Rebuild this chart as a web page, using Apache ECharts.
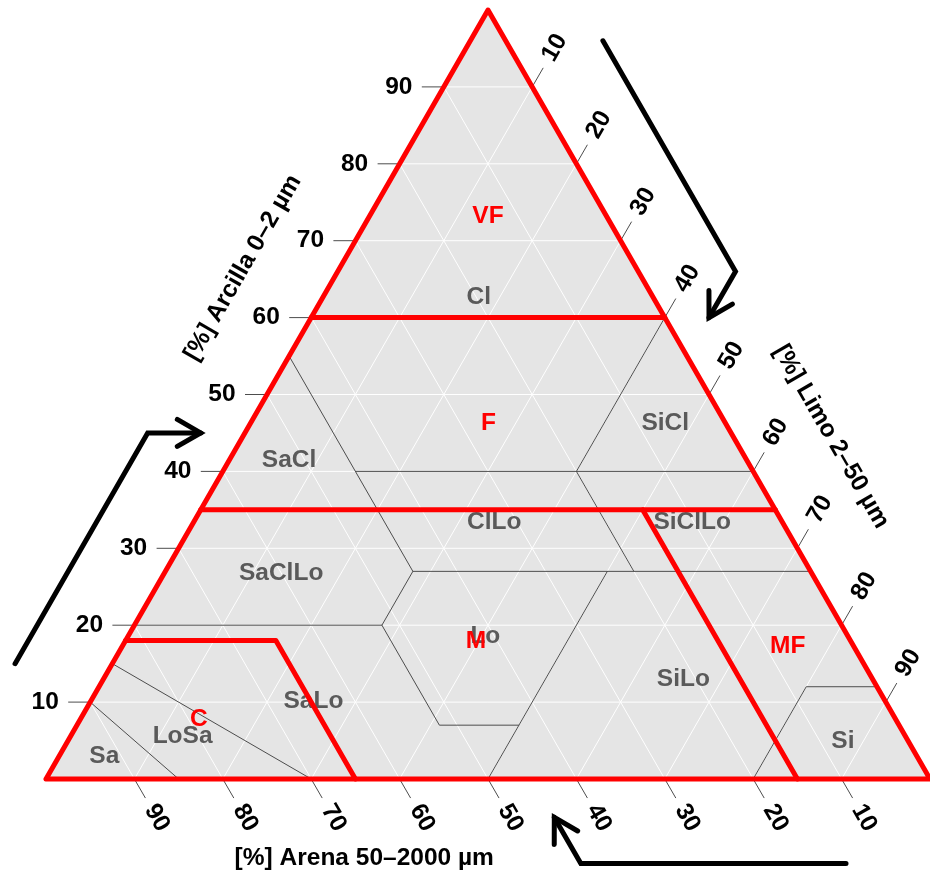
<!DOCTYPE html>
<html>
<head>
<meta charset="utf-8">
<script src="https://cdn.jsdelivr.net/npm/echarts@6/dist/echarts.min.js"></script>
<style>
  html, body { margin: 0; padding: 0; background: #ffffff; }
  #chart { width: 930px; height: 879px; }
</style>
</head>
<body>
<div id="chart"></div>
<script>
// Soil texture triangle. Every point is written as [clay, silt]; sand = 100 - clay - silt.

const tickValues = [10, 20, 30, 40, 50, 60, 70, 80, 90];
const gridSteps = [10, 20, 30, 40, 50, 60, 70, 80, 90];

// USDA texture class boundaries (thin grey polylines)
const usdaBoundaries = [
  [[10, 0], [0, 15]],
  [[15, 0], [0, 30]],
  [[20, 0], [20, 28], [27, 28], [35, 20], [55, 0]],
  [[35, 0], [35, 20]],
  [[20, 28], [7, 41], [7, 50], [0, 50]],
  [[7, 50], [27, 50]],
  [[27, 28], [27, 73]],
  [[27, 53], [40, 40]],
  [[40, 15], [40, 60]],
  [[40, 40], [60, 40]],
  [[0, 80], [12, 80], [12, 88]]
];

// FAO texture class boundaries (thick red polylines)
const faoBoundaries = [
  [[0, 0], [100, 0], [0, 100], [0, 0]],
  [[60, 0], [60, 40]],
  [[35, 0], [35, 65]],
  [[18, 0], [18, 17], [0, 35]],
  [[35, 50], [0, 85]]
];

// USDA class labels
const usdaNames = ['Cl', 'SiCl', 'SaCl', 'ClLo', 'SiClLo', 'SaClLo', 'Lo', 'SiLo', 'SaLo', 'LoSa', 'Sa', 'Si'];
const usdaClay  = [62.7, 46.3, 41.4, 33.4, 33.4, 26.8, 18.6, 13.0, 10.1, 5.5, 3.0, 4.9];
const usdaSilt  = [17.6, 46.9, 6.8, 34.0, 56.4, 13.2, 40.4, 65.6, 25.2, 12.7, 5.1, 87.7];

// FAO class labels
const faoNames = ['VF', 'F', 'M', 'MF', 'C'];
const faoClay  = [73.2, 46.3, 17.9, 17.2, 7.8];
const faoSilt  = [13.4, 26.9, 39.7, 75.3, 13.4];

// Axis titles
const axisTitles = ['[%] Arcilla 0\u20132 \u00b5m', '[%] Limo 2\u201350 \u00b5m', '[%] Arena 50\u20132000 \u00b5m'];

// Reading-direction arrows, [clay, silt] points (outside the triangle)
const arrowPaths = [
  [[96, 15], [66, 45], [60, 45]],
  [[15, -11], [45, -11], [45, -5]],
  [[-11, 96], [-11, 66], [-5, 60]]
];

const FONT = '"Liberation Sans", Arial, Helvetica, sans-serif';
const FONT_SIZE = 24.5;
const RED = '#ff0000';
const S3 = Math.sqrt(3) / 2;

// ternary [clay, silt] -> cartesian [x, y] on the 0..100 axes
function toXY(clay, silt) { return [silt + clay / 2, clay]; }

function polylineSeries(lines, stroke, width, z) {
  return {
    type: 'custom', coordinateSystem: 'cartesian2d', clip: false, silent: true, z: z,
    data: lines.map((l, i) => [i, 0]),
    renderItem: function (params, api) {
      const pts = lines[params.dataIndex].map(p => api.coord(toXY(p[0], p[1])));
      return { type: 'polyline', shape: { points: pts },
        style: { stroke: stroke, lineWidth: width, fill: null, lineJoin: 'round', lineCap: 'round' } };
    }
  };
}

// white internal grid every 10 %
const gridLines = [];
gridSteps.forEach(v => {
  gridLines.push([[v, 0], [v, 100 - v]]);          // constant clay
  gridLines.push([[0, v], [100 - v, v]]);          // constant silt
  gridLines.push([[0, 100 - v], [100 - v, 0]]);    // constant sand
});

function labelSeries(names, clay, silt, color, z) {
  return {
    type: 'custom', coordinateSystem: 'cartesian2d', clip: false, silent: true, z: z,
    data: names.map((n, i) => toXY(clay[i], silt[i])),
    renderItem: function (params, api) {
      const i = params.dataIndex;
      const p = api.coord(toXY(clay[i], silt[i]));
      return { type: 'text', x: p[0], y: p[1],
        style: { text: names[i], fill: color, font: 'bold ' + FONT_SIZE + 'px ' + FONT, align: 'center', verticalAlign: 'middle' } };
    }
  };
}

const TICK_LEN = 22, LABEL_GAP = 45;
function tickSeries(kind) {
  return {
    type: 'custom', coordinateSystem: 'cartesian2d', clip: false, silent: true, z: 3,
    data: tickValues.map(v => [v, 0]),
    renderItem: function (params, api) {
      const v = tickValues[params.dataIndex];
      let pt, dir, rot;
      if (kind === 'clay') { pt = toXY(v, 0); dir = [-1, 0]; rot = 0; }
      else if (kind === 'sand') { pt = toXY(0, 100 - v); dir = [0.5, S3]; rot = -Math.PI / 3; }
      else { pt = toXY(100 - v, v); dir = [0.5, -S3]; rot = Math.PI / 3; }
      const p = api.coord(pt);
      return { type: 'group', children: [
        { type: 'line', shape: { x1: p[0], y1: p[1], x2: p[0] + dir[0] * TICK_LEN, y2: p[1] + dir[1] * TICK_LEN },
          style: { stroke: '#4d4d4d', lineWidth: 1 } },
        { type: 'text', x: p[0] + dir[0] * LABEL_GAP, y: p[1] + dir[1] * LABEL_GAP, rotation: rot,
          style: { text: String(v), fill: '#000', font: 'bold ' + FONT_SIZE + 'px ' + FONT, align: 'center', verticalAlign: 'middle' } }
      ] };
    }
  };
}

// axis titles: anchor on an edge (in %) pushed outward by a pixel offset
const titleAnchors = [
  { at: [61, 0], normal: [-S3, -0.5], off: 84, rot: Math.PI / 3 },
  { at: [39, 61], normal: [S3, -0.5], off: 85, rot: -Math.PI / 3 },
  { at: [0, 36], normal: [0, 1], off: 79, rot: 0 }
];
const titleSeries = {
  type: 'custom', coordinateSystem: 'cartesian2d', clip: false, silent: true, z: 3,
  data: axisTitles.map((t, i) => [i, 0]),
  renderItem: function (params, api) {
    const a = titleAnchors[params.dataIndex];
    const p = api.coord(toXY(a.at[0], a.at[1]));
    return { type: 'text', x: p[0] + a.normal[0] * a.off, y: p[1] + a.normal[1] * a.off, rotation: a.rot,
      style: { text: axisTitles[params.dataIndex], fill: '#000', font: 'bold ' + FONT_SIZE + 'px ' + FONT, align: 'center', verticalAlign: 'middle' } };
  }
};

const HEAD = 27, HEAD_ANG = Math.PI / 6;
const arrowSeries = {
  type: 'custom', coordinateSystem: 'cartesian2d', clip: false, silent: true, z: 3,
  data: arrowPaths.map((a, i) => [i, 0]),
  renderItem: function (params, api) {
    const pts = arrowPaths[params.dataIndex].map(p => api.coord(toXY(p[0], p[1])));
    const n = pts.length, tip = pts[n - 1], prev = pts[n - 2];
    const back = Math.atan2(prev[1] - tip[1], prev[0] - tip[0]);
    const arm = s => [tip[0] + HEAD * Math.cos(back + s * HEAD_ANG), tip[1] + HEAD * Math.sin(back + s * HEAD_ANG)];
    const st = { stroke: '#000', lineWidth: 5, fill: null, lineCap: 'round', lineJoin: 'miter' };
    return { type: 'group', children: [
      { type: 'polyline', shape: { points: pts }, style: st },
      { type: 'polyline', shape: { points: [arm(1), tip, arm(-1)] }, style: st }
    ] };
  }
};

const fillSeries = {
  type: 'custom', coordinateSystem: 'cartesian2d', clip: false, silent: true, z: 1,
  data: [[0, 0]],
  renderItem: function (params, api) {
    const pts = [[0, 0], [100, 0], [0, 100]].map(p => api.coord(toXY(p[0], p[1])));
    return { type: 'polygon', shape: { points: pts }, style: { fill: '#e5e5e5', stroke: null } };
  }
};

const chart = echarts.init(document.getElementById('chart'), null, { renderer: 'canvas' });
chart.setOption({
  animation: false,
  backgroundColor: '#ffffff',
  grid: { left: 46, top: 10, width: 888, height: 769 },
  xAxis: { type: 'value', min: 0, max: 100, show: false },
  yAxis: { type: 'value', min: 0, max: 100, show: false },
  series: [
    fillSeries,
    polylineSeries(gridLines, '#ffffff', 1, 2),
    polylineSeries(usdaBoundaries, '#4d4d4d', 1, 3),
    tickSeries('clay'),
    tickSeries('sand'),
    tickSeries('silt'),
    titleSeries,
    arrowSeries,
    labelSeries(usdaNames, usdaClay, usdaSilt, '#5a5a5a', 4),
    polylineSeries(faoBoundaries, RED, 5, 5),
    labelSeries(faoNames, faoClay, faoSilt, RED, 6)
  ]
});
</script>
</body>
</html>
